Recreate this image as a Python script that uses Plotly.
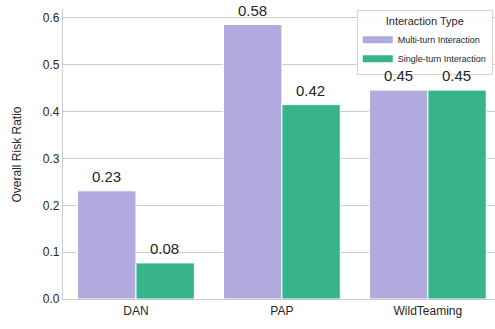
import plotly.graph_objects as go

categories = ["DAN", "PAP", "WildTeaming"]
multi_vals = [0.231, 0.586, 0.446]
single_vals = [0.077, 0.415, 0.446]
multi_labels = ["0.23", "0.58", "0.45"]
single_labels = ["0.08", "0.42", "0.45"]
series_names = ["Multi-turn Interaction", "Single-turn Interaction"]
series_colors = ["#b1aadf", "#37b48c"]
y_ticks = [0.0, 0.1, 0.2, 0.3, 0.4, 0.5, 0.6]

font = "Liberation Sans, Arial, sans-serif"
fig = go.Figure()
series = [(multi_vals, multi_labels, series_names[0], series_colors[0], -29),
          (single_vals, single_labels, series_names[1], series_colors[1], 29)]
for vals, labels, name, color, shift in series:
    fig.add_trace(go.Bar(x=categories, y=vals, name=name, showlegend=False,
                         marker=dict(color=color, line=dict(color="white", width=1))))
    for cat, v, lab in zip(categories, vals, labels):
        fig.add_annotation(x=cat, y=v, xref="x", yref="y", text=lab, showarrow=False,
                           xshift=shift, yshift=4, yanchor="bottom", xanchor="center",
                           font=dict(size=15, color="#262626"))
# legend entries with wide rectangular swatches
for name, color in zip(series_names, series_colors):
    fig.add_trace(go.Scatter(x=[None], y=[None], mode="lines", name=name,
                             line=dict(color=color, width=7)))

fig.update_layout(
    width=495, height=329,
    margin=dict(l=63, r=0, t=10, b=30, autoexpand=False),
    barmode="group", bargap=0.2, bargroupgap=0.0,
    plot_bgcolor="white", paper_bgcolor="white",
    font=dict(family=font, color="#262626", size=12),
    hovermode=False,
    xaxis=dict(range=[-0.5, 2.46], showline=True, linecolor="#cccccc", linewidth=1.25,
               ticks="", tickfont=dict(size=12), showgrid=False, automargin=False),
    yaxis=dict(range=[0, 0.617], tickvals=y_ticks, tickformat=".1f",
               showline=True, linecolor="#cccccc", linewidth=1.25,
               gridcolor="#cccccc", gridwidth=1, zeroline=False,
               ticks="", tickfont=dict(size=12), automargin=False,
               title=dict(text="Overall Risk Ratio", font=dict(size=12), standoff=18)),
    legend=dict(title=dict(text="Interaction Type", font=dict(size=11), side="top center"),
                font=dict(size=9), x=0.68, xanchor="left", y=1.0, yanchor="top",
                bgcolor="rgba(255,255,255,0.9)", bordercolor="#d6d6d6", borderwidth=1,
                itemwidth=30, tracegroupgap=0),
    showlegend=True,
)
fig.write_html("out.html", config={"displayModeBar": False},
               post_script="document.body.style.margin='0';")
